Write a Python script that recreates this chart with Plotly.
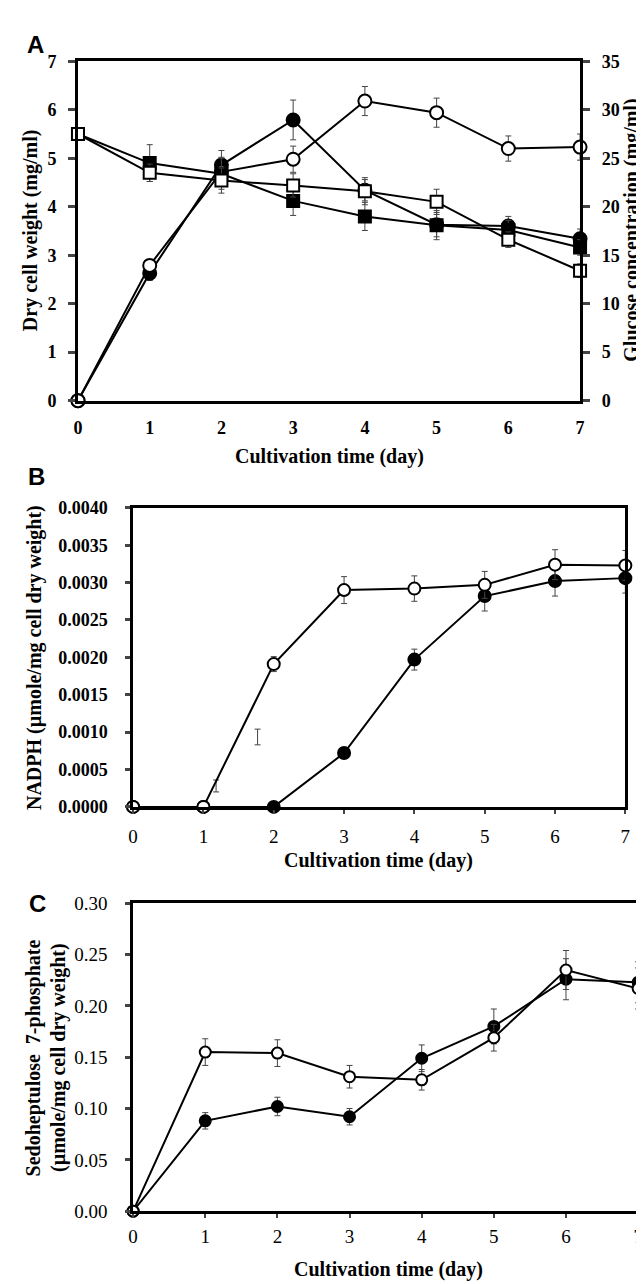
import plotly.graph_objects as go

W, H = 644, 1284

# ---------------- Panel A ----------------
days = [0, 1, 2, 3, 4, 5, 6, 7]
a_dcw_filled = [0, 2.63, 4.86, 5.79, 4.34, 3.63, 3.60, 3.34]
a_dcw_filled_err = [0, 0.15, 0.3, 0.41, 0.22, 0.25, 0.2, 0.2]
a_dcw_open = [0, 2.79, 4.72, 4.98, 6.18, 5.94, 5.20, 5.23]
a_dcw_open_err = [0, 0.12, 0.3, 0.27, 0.3, 0.3, 0.26, 0.27]
a_glc_filled = [27.5, 24.5, 23.4, 20.6, 19.0, 18.1, 17.6, 15.8]
a_glc_filled_err = [0, 1.9, 1.6, 1.5, 1.45, 1.5, 1.0, 0.8]
a_glc_open = [27.5, 23.5, 22.7, 22.2, 21.6, 20.5, 16.6, 13.4]
a_glc_open_err = [0, 0.9, 1.3, 1.2, 1.4, 1.3, 0.8, 0.7]

# ---------------- Panel B ----------------
b_filled = [0, 0, 0, 0.00072, 0.00197, 0.00282, 0.00302, 0.00306]
b_filled_err = [0, 0, 0, 0, 0.00014, 0.0002, 0.0002, 0.0002]
b_open = [0, 0, 0.00191, 0.00290, 0.00292, 0.00297, 0.00324, 0.00323]
b_open_err = [0, 0, 0.0001, 0.00018, 0.00017, 0.00018, 0.0002, 0.0002]
b_stray_x = [1.18, 1.77]
b_stray_y = [0.00028, 0.000935]
b_stray_err = [0.00008, 0.000105]

# ---------------- Panel C ----------------
c_filled = [0, 0.088, 0.102, 0.092, 0.149, 0.180, 0.226, 0.223]
c_filled_err = [0, 0.008, 0.009, 0.008, 0.013, 0.017, 0.02, 0.02]
c_open = [0, 0.155, 0.154, 0.131, 0.128, 0.169, 0.235, 0.217]
c_open_err = [0, 0.013, 0.013, 0.011, 0.01, 0.013, 0.019, 0.02]

x_ticks = [0, 1, 2, 3, 4, 5, 6, 7]

SERIF = "Liberation Serif"
SANS = "Liberation Sans"
ERR_COLOR = "#444444"


def px_x(p):
    return p / W


def px_y(p):
    return 1 - p / H


def series(x, y, err, filled, symbol, size, xa, ya, lw=2):
    return go.Scatter(
        x=x, y=y, xaxis=xa, yaxis=ya, mode="lines+markers",
        line=dict(color="black", width=lw),
        marker=dict(symbol=symbol, size=size,
                    color="black" if filled else "white",
                    line=dict(color="black", width=2)),
        error_y=dict(type="data", array=err, visible=True, color=ERR_COLOR,
                     thickness=1, width=3),
        cliponaxis=False, showlegend=False, hoverinfo="x+y",
    )


fig = go.Figure()

# Panel A traces
fig.add_trace(series(days, a_glc_filled, a_glc_filled_err, True, "square", 12, "x", "y2"))
fig.add_trace(series(days, a_glc_open, a_glc_open_err, False, "square", 12, "x", "y2"))
fig.add_trace(series(days, a_dcw_filled, a_dcw_filled_err, True, "circle", 13, "x", "y"))
fig.add_trace(series(days, a_dcw_open, a_dcw_open_err, False, "circle", 13, "x", "y"))

# Panel B traces
fig.add_trace(go.Scatter(
    x=b_stray_x, y=b_stray_y, xaxis="x2", yaxis="y3", mode="markers",
    marker=dict(size=0.1, color="rgba(0,0,0,0)"),
    error_y=dict(type="data", array=b_stray_err, visible=True, color=ERR_COLOR,
                 thickness=1, width=3),
    showlegend=False, hoverinfo="skip"))
fig.add_trace(series(days, b_filled, b_filled_err, True, "circle", 12, "x2", "y3"))
fig.add_trace(series(days, b_open, b_open_err, False, "circle", 12, "x2", "y3"))

# Panel C traces
fig.add_trace(series(days, c_filled, c_filled_err, True, "circle", 11, "x3", "y4"))
fig.add_trace(series(days, c_open, c_open_err, False, "circle", 11, "x3", "y4"))

axis_common = dict(showgrid=False, zeroline=False, showline=True, linecolor="black")

bold_tick = dict(family=SERIF, size=18, color="black", weight="bold")
reg_tick = dict(family=SERIF, size=19, color="black")

fig.update_layout(
    width=W, height=H,
    margin=dict(l=0, r=0, t=0, b=0),
    paper_bgcolor="white", plot_bgcolor="white",
    # A
    xaxis=dict(domain=[px_x(66), px_x(576)], anchor="y", range=[0, 7],
               tickvals=x_ticks, ticks="", mirror=True, linewidth=3,
               tickfont=bold_tick, ticklabelstandoff=9, **axis_common),
    yaxis=dict(domain=[px_y(389), px_y(44)], anchor="x", range=[0, 7], dtick=1,
               ticks="outside", ticklen=7, tickwidth=3, linewidth=3,
               tickfont=bold_tick, ticklabelstandoff=8, **axis_common),
    yaxis2=dict(overlaying="y", side="right", anchor="x", range=[0, 35], dtick=5,
                ticks="outside", ticklen=7, tickwidth=3, linewidth=3,
                tickfont=bold_tick, ticklabelstandoff=8, **axis_common),
    # B
    xaxis2=dict(domain=[px_x(122), px_x(622)], anchor="y3", range=[0, 7],
                tickvals=x_ticks, ticks="outside", ticklen=4, tickwidth=1.5,
                mirror=True, linewidth=2.5, tickfont=reg_tick,
                ticklabelstandoff=7, **axis_common),
    yaxis3=dict(domain=[px_y(802), px_y(498)], anchor="x2", range=[0, 0.004],
                dtick=0.0005, tickformat=".4f", ticks="outside", ticklen=5,
                tickwidth=2.5, mirror=True, linewidth=2.5, tickfont=bold_tick,
                ticklabelstandoff=14, **axis_common),
    # C
    xaxis3=dict(domain=[px_x(122), px_x(635)], anchor="y4", range=[0, 7],
                tickvals=x_ticks, ticks="outside", ticklen=4, tickwidth=1.5,
                mirror=True, linewidth=2.5, tickfont=reg_tick,
                ticklabelstandoff=2, **axis_common),
    yaxis4=dict(domain=[px_y(1213), px_y(900)], anchor="x3", range=[0, 0.3],
                dtick=0.05, tickformat=".2f", ticks="outside", ticklen=5,
                tickwidth=2.5, mirror=True, linewidth=2.5, tickfont=reg_tick,
                ticklabelstandoff=14, **axis_common),
)

title_font = dict(family=SERIF, size=20, color="black", weight="bold")
panel_font = dict(family=SANS, size=24, color="black", weight="bold")


def ann(text, x, y, font, angle=0):
    fig.add_annotation(text=text, x=px_x(x), y=px_y(y), xref="paper", yref="paper",
                       showarrow=False, font=font, textangle=angle,
                       xanchor="center", yanchor="middle")


# Panel labels
ann("A", 23, 27, panel_font)
ann("B", 24, 466, panel_font)
ann("C", 25, 900, panel_font)

# Axis titles
ann("Cultivation time (day)", 321, 446, title_font)
ann("Dry cell weight (mg/ml)", 18, 216, title_font, -90)
ann("Glucose concentration (mg/ml)", 628, 216, title_font, -90)

ann("Cultivation time (day)", 371, 857, title_font)
ann("NADPH (µmole/mg cell dry weight)", 22, 650, title_font, -90)

ann("Cultivation time (day)", 381, 1272, title_font)
ann("Sedoheptulose  7-phosphate", 21, 1057, title_font, -90)
ann("(µmole/mg cell dry weight)", 46, 1057, title_font, -90)

fig.write_html("out.html")
